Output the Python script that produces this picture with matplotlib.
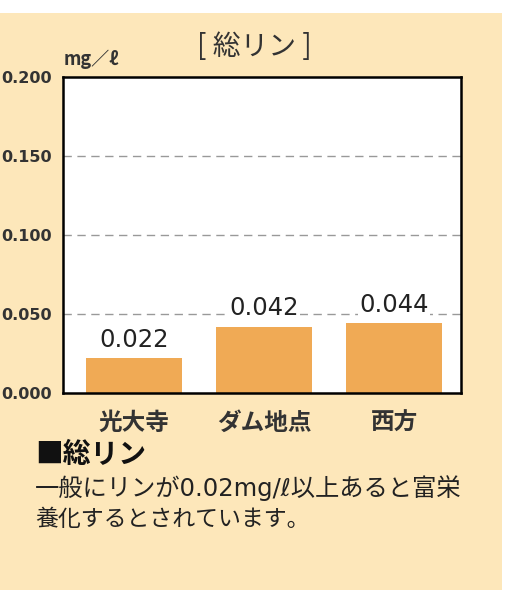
import matplotlib.pyplot as plt
from matplotlib.patches import Rectangle

plt.rcParams['font.family'] = ['Noto Sans CJK JP', 'DejaVu Sans']

sites = ['光大寺', 'ダム地点', '西方']
values = [0.022, 0.042, 0.044]
yticks = [0.0, 0.05, 0.10, 0.15, 0.20]
ytick_labels = ['0.000', '0.050', '0.100', '0.150', '0.200']

bar_color = '#F0AA55'
bg_color = '#FDE7BA'

fig = plt.figure(figsize=(5.13, 5.90), dpi=100)
fig.patches.append(Rectangle((0, 0), 502 / 513, 577 / 590, transform=fig.transFigure,
                             facecolor=bg_color, edgecolor='none', zorder=-10))

ax = fig.add_axes([63 / 513, 197 / 590, 398 / 513, 316 / 590])
ax.set_facecolor('white')
x = list(range(len(sites)))
ax.bar(x, values, width=0.74, color=bar_color, zorder=2)
ax.set_xlim(-0.546, 2.515)
ax.set_ylim(0, 0.2)

for xi, v in zip(x, values):
    ax.text(xi, v + 0.004, f'{v:.3f}', ha='center', va='bottom', fontsize=17.5,
            family='DejaVu Sans', color='#222222', zorder=3,
            bbox=dict(facecolor='white', edgecolor='none', pad=1))

ax.set_yticks(yticks)
ax.set_yticklabels(ytick_labels, family='DejaVu Sans', fontsize=11.5, fontweight='bold',
                   color='#333333')
ax.set_xticks(x)
ax.set_xticklabels(sites, fontsize=17, fontweight='bold', color='#333333')
ax.tick_params(axis='both', length=0)
ax.tick_params(axis='y', pad=8)
ax.tick_params(axis='x', pad=13)
for yv in yticks[1:-1]:
    ax.axhline(yv, color='#999999', linestyle=(0, (6, 4)), linewidth=1, zorder=1)
for s in ax.spines.values():
    s.set_linewidth(1.8)
    s.set_color('black')

fig.text(254 / 513, 1 - 47 / 590, '[ 総リン ]', ha='center', va='center', fontsize=20,
         color='#333333')
fig.text(64 / 513, 1 - 59 / 590, 'mg／ℓ', ha='left', va='center', fontsize=13,
         fontweight='bold', color='#333333')

fig.text(35 / 513, 1 - 455 / 590, '■総リン', ha='left', va='center', fontsize=20,
         fontweight='bold', color='#111111')
fig.text(35 / 513, 1 - 488 / 590, '一般にリンが0.02mg/ℓ以上あると富栄', ha='left', va='center',
         fontsize=17.5, family=['DejaVu Sans', 'Noto Sans CJK JP'], color='#222222')
fig.text(35 / 513, 1 - 519 / 590, '養化するとされています。', ha='left', va='center',
         fontsize=16.5, color='#222222')

fig.savefig('out.png', dpi=100)
